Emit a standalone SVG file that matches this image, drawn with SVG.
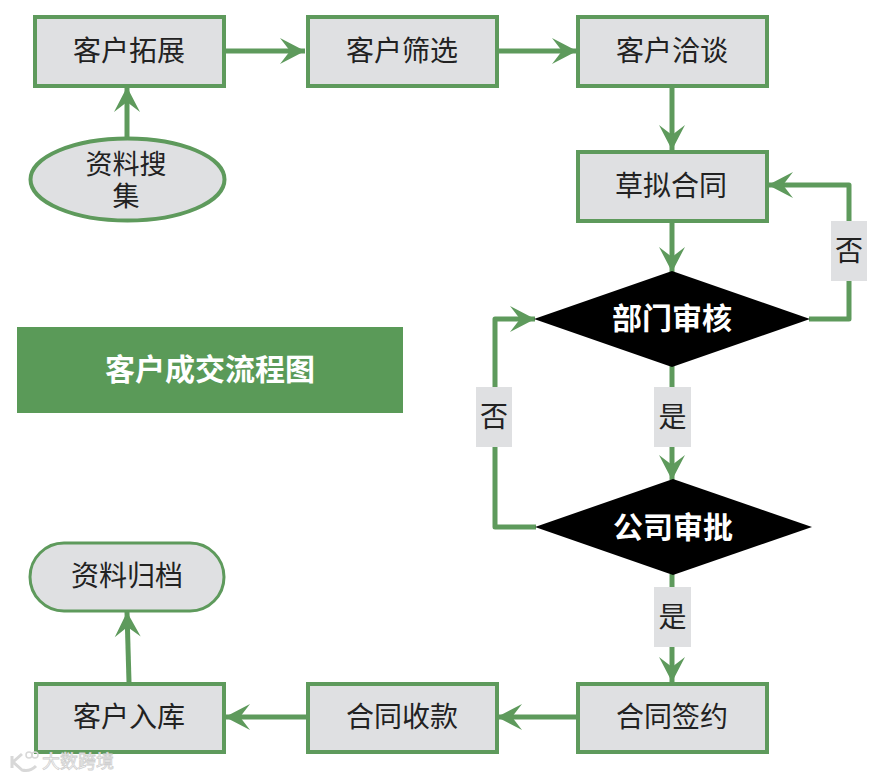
<svg xmlns="http://www.w3.org/2000/svg" width="869" height="778" viewBox="0 0 869 778">
<style>
text{font-family:"Noto Sans CJK SC","Noto Sans",sans-serif;text-anchor:middle;dominant-baseline:central}
.b rect,.b ellipse{fill:#dfe0e2;stroke:#5e9a5c;stroke-width:4}
.t{font-size:28px;fill:#222}
.d polygon{fill:#000}
.d text{font-size:30px;font-weight:700;fill:#fff}
.c path{fill:none;stroke:#5e9a5c;stroke-width:5;stroke-linejoin:round}
.l rect{fill:#dfe0e2}
.l text{font-size:28px;fill:#222}
</style>
<defs>
<marker id="a" markerUnits="userSpaceOnUse" markerWidth="28" markerHeight="30" refX="27" refY="15" orient="auto">
<polygon points="27,15 2,2 12,15 2,28" fill="#5e9a5c"/>
</marker>
</defs>
<rect width="869" height="778" fill="#fff"/>
<g class="c" id="connectors">
<path d="M224 51H305" marker-end="url(#a)"/>
<path d="M497 51H577" marker-end="url(#a)"/>
<path d="M672 86V150" marker-end="url(#a)"/>
<path d="M127 138V87" marker-end="url(#a)"/>
<path d="M672 222V272" marker-end="url(#a)"/>
<path d="M809 319H849V185H768" marker-end="url(#a)"/>
<path d="M672 366V480" marker-end="url(#a)"/>
<path d="M536 527H495V319H535" marker-end="url(#a)"/>
<path d="M672 574V682" marker-end="url(#a)"/>
<path d="M577 717H497" marker-end="url(#a)"/>
<path d="M307 717H225" marker-end="url(#a)"/>
<path d="M129 682L127 612" marker-end="url(#a)"/>
</g>
<g id="n1" class="b"><rect x="35" y="17" width="189" height="69"/><text class="t" x="129" y="49">客户拓展</text></g>
<g id="n2" class="b"><rect x="308" y="17" width="189" height="69"/><text class="t" x="402" y="49">客户筛选</text></g>
<g id="n3" class="b"><rect x="578" y="17" width="189" height="69"/><text class="t" x="672" y="49">客户洽谈</text></g>
<g id="n4" class="b"><ellipse cx="127.500" cy="179.500" rx="97" ry="41"/><text class="t" style="font-size:27px" x="126" y="162"><tspan x="126">资料搜</tspan><tspan x="126" dy="32">集</tspan></text></g>
<g id="n5" class="b"><rect x="578" y="152" width="189" height="69"/><text class="t" x="671" y="184">草拟合同</text></g>
<g id="n6" class="d"><polygon points="534,319 672,271 810,319 672,367"/><text x="672" y="316">部门审核</text></g>
<g id="n7" class="d"><polygon points="535,527 673,479 812,527 673,575"/><text x="673" y="525">公司审批</text></g>
<g id="title"><rect x="17" y="327" width="386" height="86" fill="#5a9a58"/><text x="210" y="367" font-size="30" font-weight="700" fill="#fff">客户成交流程图</text></g>
<g id="n8" class="b"><rect x="30" y="543" width="194" height="68" rx="34" style="stroke-width:3"/><text class="t" x="127" y="574">资料归档</text></g>
<g id="n9" class="b"><rect x="36" y="684" width="188" height="68"/><text class="t" x="129" y="715">客户入库</text></g>
<g id="n10" class="b"><rect x="308" y="684" width="189" height="68"/><text class="t" x="402" y="715">合同收款</text></g>
<g id="n11" class="b"><rect x="578" y="684" width="189" height="68"/><text class="t" x="672" y="715">合同签约</text></g>
<g id="labels" class="l">
<rect x="831" y="221" width="36" height="60"/><text x="849" y="249">否</text>
<rect x="476" y="387" width="36" height="60"/><text x="494" y="415">否</text>
<rect x="654" y="387" width="37" height="60"/><text x="672.500" y="415">是</text>
<rect x="654" y="587" width="37" height="60"/><text x="672.500" y="615">是</text>
</g>
<g id="watermark">
<path d="M12 756V768M22 754L13 762L22 770Q30 772 36 766" fill="none" stroke="#d8d8d8" stroke-width="3"/>
<circle cx="29" cy="755" r="3" fill="none" stroke="#d8d8d8" stroke-width="1.500"/>
<circle cx="35" cy="755" r="3" fill="none" stroke="#d8d8d8" stroke-width="1.500"/>
<text x="78" y="760" font-size="18" fill="#fff" stroke="#cfcfcf" stroke-width="0.800">大数跨境</text>
</g>
</svg>
